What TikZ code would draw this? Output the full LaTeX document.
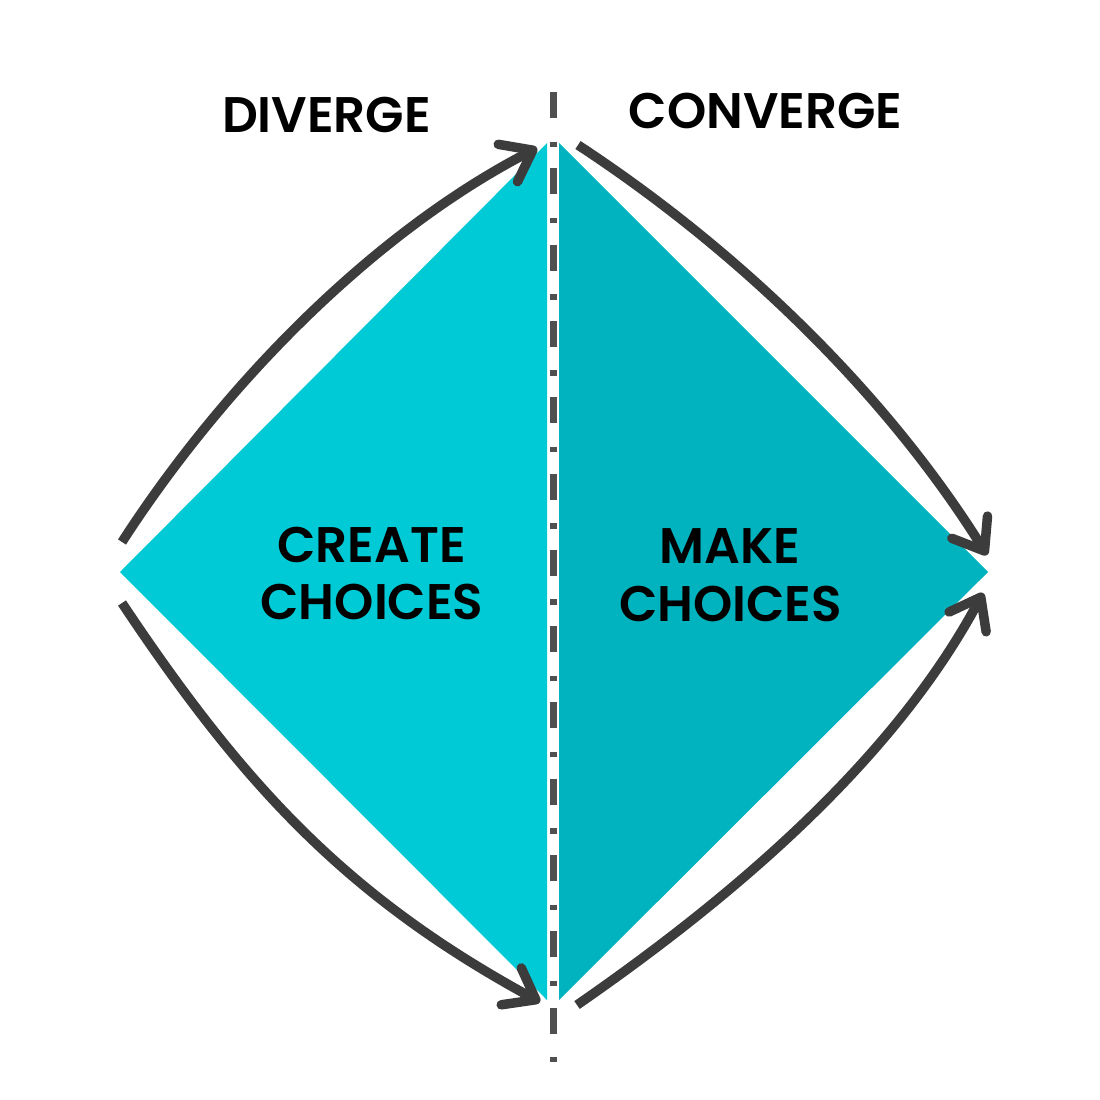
\documentclass[tikz,border=0pt]{standalone}
\usepackage{fontspec}
\setmainfont{Poppins}[BoldFont={Poppins SemiBold}]
\usetikzlibrary{arrows.meta}
\definecolor{cyanL}{HTML}{00CAD6}
\definecolor{cyanR}{HTML}{00B3BE}
\definecolor{arrowgray}{HTML}{3C3C3C}
\definecolor{dashgray}{HTML}{505050}
\begin{document}
\begin{tikzpicture}[x=1pt,y=-1pt,
  flow/.style={draw=arrowgray, line width=9.5pt, -{Straight Barb[length=28pt,width=42pt,round]}},
  headtext/.style={font=\bfseries\fontsize{50}{60}\selectfont, inner sep=0pt, anchor=base},
  divider/.style={draw=dashgray, line width=7pt, dash pattern=on 26pt off 23.5pt on 5.5pt off 21.3pt}
  ]
\useasboundingbox (0,0) rectangle (1100,1100);
\fill[white] (0,0) rectangle (1100,1100);
% triangles
\fill[cyanL] (120,572) -- (547,143) -- (547,1000) -- cycle;
\fill[cyanR] (559,143) -- (559,1000) -- (988,572) -- cycle;
% divider
\coordinate (dtop) at (553.5,92);
\coordinate (dbot) at (553.5,1062);
\draw[divider] (dtop) -- (dbot);
% arrow end points
\coordinate (a1s) at (122,542);
\coordinate (a1e) at (537,148);
\coordinate (a2s) at (122,603);
\coordinate (a2e) at (540,1002);
\coordinate (a3s) at (578,145);
\coordinate (a3e) at (987,555);
\coordinate (a4s) at (577,1005);
\coordinate (a4e) at (983,593);
\draw[flow] (a1s) .. controls (222,387) and (372,233) .. (a1e);
\draw[flow] (a2s) .. controls (244,786) and (347,897) .. (a2e);
\draw[flow] (a3s) .. controls (738,250) and (886,393) .. (a3e);
\draw[flow] (a4s) .. controls (733,897) and (894,760) .. (a4e);
% texts
\node[headtext] (div) at (326.5,132) {DIVERGE};
\node[headtext] (conv) at (765.5,128) {CONVERGE};
\node[headtext] (create) at (371.5,562) {CREATE};
\node[headtext] (choicesL) at (372,619) {CHOICES};
\node[headtext] (make) at (730,563) {MAKE};
\node[headtext] (choicesR) at (730.5,621) {CHOICES};
\end{tikzpicture}
\end{document}
